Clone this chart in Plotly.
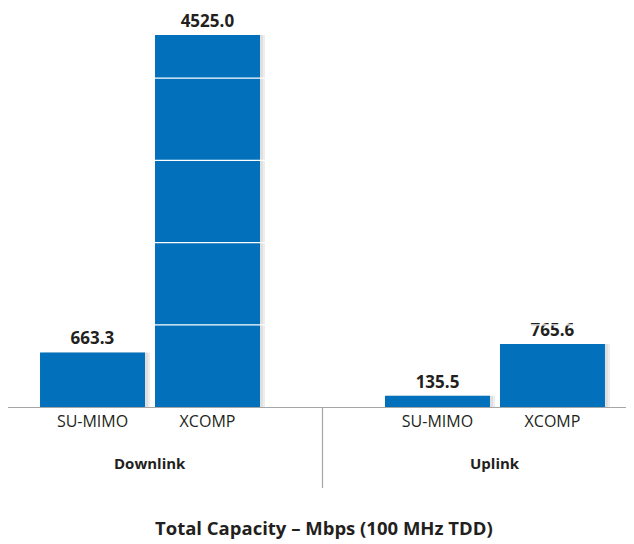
import plotly.graph_objects as go

groups = ["Downlink", "Uplink"]
schemes = ["SU-MIMO", "XCOMP"]
capacity = {"Downlink": [663.3, 4525.0], "Uplink": [135.5, 765.6]}
grid_vals = [1000, 2000, 3000, 4000]
title_text = "Total Capacity – Mbps (100 MHz TDD)"

blue = "#0270bb"
ink = "#231f20"
font_fam = "Open Sans, Lato, sans-serif"

# positions: two bars per group, one empty slot between groups
xs, ys, labels = [], [], []
for g, grp in enumerate(groups):
    for i, s in enumerate(schemes):
        xs.append(g * 3 + i)
        ys.append(capacity[grp][i])
        labels.append(s)

fig = go.Figure()

# soft shadow to the right of each bar
fig.add_trace(go.Bar(
    x=[x + 0.035 for x in xs], y=ys, width=0.93,
    marker=dict(color="rgba(0,0,0,0.07)", line=dict(width=0)),
    hoverinfo="skip", showlegend=False))
fig.add_trace(go.Bar(
    x=[x + 0.02 for x in xs], y=ys, width=0.925,
    marker=dict(color="rgba(0,0,0,0.06)", line=dict(width=0)),
    hoverinfo="skip", showlegend=False))

fig.add_trace(go.Bar(
    x=xs, y=ys, width=0.913,
    marker=dict(color=blue, line=dict(width=0)),
    texttemplate="<b>%{y:.1f}</b>", textposition="outside",
    textfont=dict(family=font_fam, size=17, color=ink),
    cliponaxis=False, showlegend=False))

# white grid lines drawn over the bars
for v in grid_vals:
    fig.add_shape(type="line", xref="paper", x0=0, x1=1, y0=v, y1=v,
                  line=dict(color="white", width=1.3), layer="above")

# divider between groups
fig.add_shape(type="line", x0=2, x1=2, yref="paper", y0=0, y1=-0.203,
              line=dict(color="#a6a6a6", width=1.2))

for g, grp in enumerate(groups):
    fig.add_annotation(x=g * 3 + 0.5, y=-0.14, yref="paper", yanchor="middle",
                       text="<b>%s</b>" % grp, showarrow=False,
                       font=dict(family=font_fam, size=15, color=ink))

fig.add_annotation(x=0.505, xref="paper", y=-0.301, yref="paper", yanchor="middle",
                   text="<b>%s</b>" % title_text, showarrow=False,
                   font=dict(family=font_fam, size=18.5, color=ink))

# page body has an 8px margin, so the figure is 8px smaller than the window
fig.update_layout(
    width=626, height=536,
    margin=dict(l=0, r=0, t=0, b=137),
    paper_bgcolor="white", plot_bgcolor="white",
    barmode="overlay",
    xaxis=dict(range=[-0.735, 4.709], tickvals=xs, ticktext=labels,
               showgrid=False, zeroline=False, showline=True, linecolor="#a6a6a6", linewidth=1.2,
               ticks="", tickfont=dict(family=font_fam, size=16, color=ink)),
    yaxis=dict(range=[0, 4853], showgrid=False, zeroline=False, showticklabels=False,
               showline=False),
)

fig.write_html("out.html")
